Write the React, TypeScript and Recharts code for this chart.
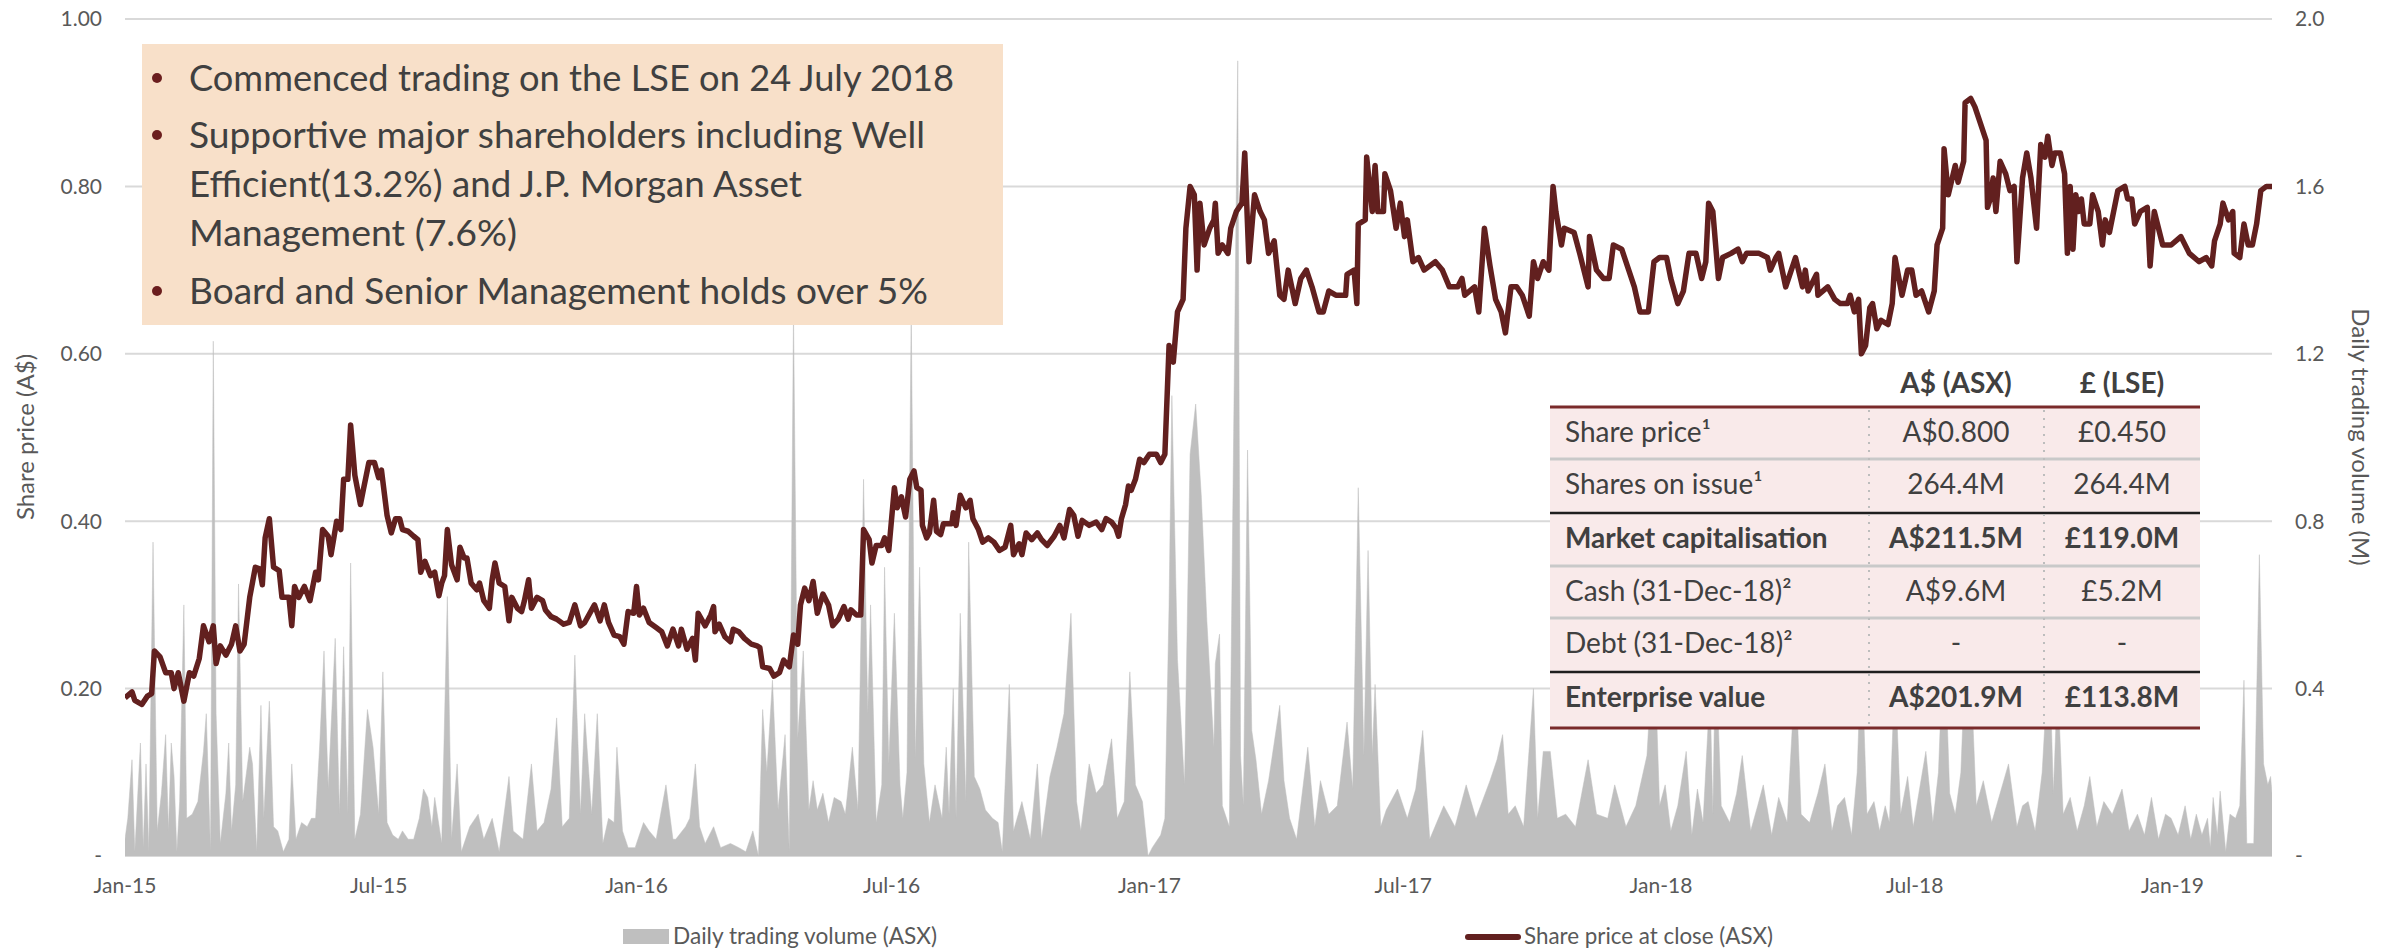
import { ComposedChart, Area, Line, XAxis, YAxis, CartesianGrid } from "recharts"

type Pt = [number, number]

// [days since 1 Jan 2015, share price A$]
const price2015: Pt[] = [
  [0, 0.189], [5, 0.196], [7, 0.186], [12, 0.181], [16, 0.191], [19, 0.194], [21, 0.245], [25, 0.238], [29, 0.219], [33, 0.219],
  [35, 0.2], [38, 0.219], [42, 0.185], [46, 0.219], [49, 0.215], [53, 0.236], [56, 0.275], [60, 0.256], [63, 0.275], [65, 0.23],
  [68, 0.251], [72, 0.24], [76, 0.253], [79, 0.275], [82, 0.245], [85, 0.253], [89, 0.309], [93, 0.345], [96, 0.343], [98, 0.324],
  [100, 0.38], [103, 0.403], [106, 0.345], [110, 0.341], [112, 0.309], [117, 0.309], [119, 0.275], [121, 0.322], [124, 0.309],
  [128, 0.322], [132, 0.305], [136, 0.339], [138, 0.33], [141, 0.39], [145, 0.382], [147, 0.36], [151, 0.4], [154, 0.39],
  [156, 0.45], [159, 0.45], [161, 0.515], [164, 0.455], [168, 0.42], [170, 0.437], [174, 0.47], [178, 0.47], [181, 0.452],
  [183, 0.461], [187, 0.407], [190, 0.386], [193, 0.403], [196, 0.403], [198, 0.39], [202, 0.388], [206, 0.382], [209, 0.378],
  [211, 0.339], [214, 0.352], [218, 0.335], [221, 0.339], [224, 0.311], [226, 0.326], [228, 0.335], [230, 0.39], [233, 0.348],
  [237, 0.33], [239, 0.369], [242, 0.356], [244, 0.356], [247, 0.326], [251, 0.318], [253, 0.326], [256, 0.305], [260, 0.296],
  [262, 0.33], [264, 0.35], [267, 0.326], [271, 0.322], [274, 0.281], [276, 0.309], [280, 0.296], [283, 0.292], [285, 0.305],
  [288, 0.33], [290, 0.296], [294, 0.309], [298, 0.305], [300, 0.294], [304, 0.286], [308, 0.283], [313, 0.277], [317, 0.279],
  [321, 0.3], [325, 0.275], [328, 0.279], [335, 0.3], [339, 0.281], [342, 0.3], [345, 0.279], [349, 0.264], [353, 0.262],
  [356, 0.253], [359, 0.292], [363, 0.29],
]
const price2016: Pt[] = [
  [365, 0.322], [367, 0.288], [370, 0.296], [374, 0.279], [379, 0.273], [383, 0.268], [387, 0.251], [391, 0.271], [395, 0.251],
  [397, 0.271], [401, 0.247], [405, 0.26], [407, 0.234], [409, 0.29], [414, 0.275], [418, 0.288], [420, 0.298], [421, 0.268],
  [424, 0.277], [428, 0.262], [432, 0.256], [434, 0.271], [438, 0.268], [442, 0.26], [447, 0.253], [451, 0.251], [453, 0.249],
  [455, 0.226], [460, 0.224], [463, 0.215], [467, 0.219], [470, 0.234], [474, 0.226], [477, 0.264], [480, 0.253], [482, 0.3],
  [485, 0.32], [488, 0.305], [491, 0.328], [494, 0.29], [498, 0.313], [502, 0.3], [505, 0.275], [509, 0.283], [513, 0.298],
  [516, 0.283], [518, 0.294], [522, 0.288], [525, 0.288], [527, 0.39], [531, 0.378], [533, 0.35], [536, 0.371], [540, 0.371],
  [542, 0.38], [545, 0.365], [549, 0.44], [551, 0.416], [554, 0.429], [557, 0.405], [560, 0.45], [563, 0.46], [565, 0.44],
  [568, 0.437], [569, 0.395], [572, 0.38], [574, 0.386], [577, 0.425], [579, 0.388], [582, 0.384], [584, 0.397], [590, 0.397],
  [591, 0.41], [593, 0.395], [596, 0.431], [600, 0.416], [603, 0.425], [605, 0.403], [609, 0.39], [612, 0.375], [616, 0.38],
  [620, 0.375], [624, 0.365], [628, 0.369], [632, 0.395], [634, 0.36], [638, 0.373], [640, 0.36], [643, 0.386], [647, 0.378],
  [651, 0.386], [654, 0.378], [658, 0.371], [663, 0.382], [667, 0.395], [670, 0.38], [674, 0.414], [677, 0.407], [680, 0.382],
  [683, 0.401], [688, 0.395], [693, 0.399], [697, 0.39], [700, 0.403], [704, 0.399], [707, 0.392], [709, 0.382], [711, 0.403],
  [714, 0.42], [716, 0.442], [718, 0.437], [721, 0.45], [724, 0.474], [727, 0.47],
]
const price2017: Pt[] = [
  [731, 0.48], [736, 0.48], [739, 0.47], [742, 0.48], [745, 0.61], [748, 0.59], [751, 0.65], [755, 0.665], [757, 0.75], [760, 0.8],
  [763, 0.79], [765, 0.7], [767, 0.78], [770, 0.73], [774, 0.75], [777, 0.76], [778, 0.78], [780, 0.72], [783, 0.73], [787, 0.72],
  [789, 0.75], [793, 0.77], [797, 0.78], [799, 0.84], [802, 0.71], [806, 0.79], [810, 0.77], [813, 0.76], [816, 0.72], [820, 0.735],
  [824, 0.67], [827, 0.665], [830, 0.7], [835, 0.66], [839, 0.69], [843, 0.7], [847, 0.68], [852, 0.65], [855, 0.65], [859, 0.675],
  [864, 0.67], [871, 0.67], [872, 0.695], [877, 0.7], [879, 0.66], [880, 0.755], [885, 0.76], [886, 0.835], [890, 0.77],
  [892, 0.825], [894, 0.77], [898, 0.77], [899, 0.815], [903, 0.795], [907, 0.75], [910, 0.78], [913, 0.74], [915, 0.76],
  [919, 0.71], [923, 0.715], [927, 0.7], [935, 0.71], [940, 0.7], [945, 0.68], [951, 0.68], [954, 0.69], [956, 0.67], [963, 0.68],
  [966, 0.65], [970, 0.75], [974, 0.705], [978, 0.665], [982, 0.65], [985, 0.625], [989, 0.68], [993, 0.68], [997, 0.67],
  [1002, 0.645], [1005, 0.71], [1008, 0.69], [1012, 0.71], [1016, 0.7], [1019, 0.8], [1021, 0.77], [1025, 0.73], [1027, 0.75],
  [1034, 0.745], [1038, 0.72], [1044, 0.68], [1045, 0.74], [1050, 0.7], [1055, 0.69], [1059, 0.69], [1062, 0.73], [1068, 0.725],
  [1073, 0.7], [1077, 0.68], [1081, 0.65], [1087, 0.65], [1091, 0.71], [1095, 0.715],
]
const price2018: Pt[] = [
  [1100, 0.715], [1103, 0.69], [1108, 0.66], [1112, 0.675], [1116, 0.72], [1121, 0.72], [1125, 0.69], [1128, 0.71], [1130, 0.78],
  [1133, 0.77], [1137, 0.69], [1140, 0.715], [1146, 0.72], [1151, 0.725], [1154, 0.71], [1157, 0.72], [1166, 0.72], [1172, 0.715],
  [1174, 0.7], [1178, 0.715], [1180, 0.72], [1185, 0.68], [1192, 0.715], [1197, 0.68], [1199, 0.7], [1201, 0.675], [1207, 0.695],
  [1208, 0.67], [1215, 0.68], [1220, 0.665], [1224, 0.66], [1229, 0.66], [1231, 0.67], [1234, 0.65], [1237, 0.665], [1239, 0.6],
  [1242, 0.61], [1245, 0.655], [1247, 0.66], [1250, 0.63], [1253, 0.64], [1258, 0.635], [1261, 0.66], [1263, 0.715], [1268, 0.67],
  [1272, 0.7], [1275, 0.7], [1278, 0.67], [1282, 0.675], [1287, 0.65], [1291, 0.675], [1293, 0.73], [1297, 0.75], [1298, 0.845],
  [1301, 0.79], [1306, 0.825], [1308, 0.805], [1312, 0.83], [1313, 0.9], [1317, 0.905], [1320, 0.895], [1323, 0.88], [1328, 0.855],
  [1329, 0.775], [1331, 0.785], [1333, 0.81], [1335, 0.77], [1338, 0.83], [1342, 0.815], [1345, 0.795], [1348, 0.8], [1350, 0.71],
  [1354, 0.81], [1357, 0.84], [1360, 0.81], [1364, 0.75], [1367, 0.85], [1370, 0.835], [1372, 0.86], [1375, 0.825], [1377, 0.84],
  [1381, 0.84], [1384, 0.815], [1386, 0.72], [1388, 0.8], [1390, 0.725], [1392, 0.79], [1394, 0.77], [1396, 0.785], [1398, 0.755],
  [1402, 0.755], [1404, 0.79], [1408, 0.77], [1411, 0.73], [1413, 0.76], [1416, 0.745], [1419, 0.77], [1422, 0.795], [1427, 0.8],
  [1429, 0.785], [1432, 0.785], [1434, 0.755], [1438, 0.77], [1443, 0.775], [1445, 0.705], [1448, 0.77], [1451, 0.75],
  [1454, 0.73], [1460, 0.73],
]
const price2019: Pt[] = [
  [1467, 0.74], [1473, 0.72], [1480, 0.71], [1485, 0.715], [1489, 0.705], [1491, 0.735], [1495, 0.755], [1497, 0.78], [1501, 0.76],
  [1504, 0.77], [1505, 0.72], [1509, 0.715], [1512, 0.755], [1515, 0.73], [1518, 0.73], [1521, 0.755], [1524, 0.795], [1528, 0.8],
  [1532, 0.8],
]

// [days since 1 Jan 2015, daily volume in millions]
const vol2015: Pt[] = [
  [0, 0.04], [2, 0.09], [5, 0.23], [7, 0.01], [11, 0.27], [13, 0.02], [15, 0.22], [17, 0.01], [20, 0.75], [23, 0.06], [26, 0.15],
  [29, 0.29], [31, 0.06], [33, 0.27], [35, 0.19], [37, 0.01], [39, 0.13], [42, 0.6], [44, 0.09], [48, 0.1], [52, 0.13], [56, 0.25],
  [58, 0.34], [61, 0.01], [63, 1.23], [65, 0.34], [68, 0.03], [72, 0.15], [74, 0.27], [76, 0.06], [79, 0.17], [81, 0.65], [84, 0.13],
  [89, 0.26], [91, 0.22], [94, 0.01], [97, 0.36], [99, 0.09], [103, 0.37], [106, 0.07], [109, 0.06], [113, 0.01], [117, 0.04],
  [119, 0.22], [122, 0.04], [126, 0.08], [130, 0.07], [133, 0.09], [136, 0.09], [139, 0.27], [142, 0.49], [145, 0.16], [150, 0.52],
  [153, 0.1], [156, 0.5], [159, 0.1], [161, 0.7], [164, 0.04], [168, 0.1], [173, 0.35], [177, 0.26], [181, 0.1], [184, 0.44],
  [187, 0.08], [191, 0.05], [195, 0.04], [198, 0.06], [202, 0.04], [206, 0.04], [210, 0.09], [213, 0.16], [216, 0.14], [219, 0.07],
  [221, 0.14], [226, 0.03], [230, 0.62], [233, 0.04], [237, 0.22], [240, 0.01], [246, 0.07], [252, 0.1], [256, 0.04], [262, 0.09],
  [267, 0.01], [274, 0.19], [277, 0.06], [284, 0.04], [290, 0.22], [294, 0.06], [299, 0.08], [304, 0.16], [308, 0.33], [312, 0.07],
  [317, 0.09], [321, 0.48], [325, 0.1], [328, 0.34], [333, 0.1], [337, 0.34], [341, 0.03], [345, 0.09], [349, 0.08], [351, 0.26],
  [355, 0.06], [359, 0.02], [364, 0.02],
]
const vol2016: Pt[] = [
  [370, 0.08], [374, 0.06], [379, 0.04], [386, 0.17], [391, 0.04], [393, 0.04], [400, 0.07], [403, 0.09], [407, 0.22], [410, 0.07],
  [414, 0.03], [420, 0.07], [425, 0.02], [432, 0.03], [438, 0.02], [443, 0.01], [448, 0.06], [452, 0.0], [455, 0.35], [458, 0.2],
  [462, 0.42], [466, 0.11], [471, 0.29], [474, 0.01], [477, 1.3], [480, 0.28], [484, 0.49], [488, 0.11], [491, 0.18], [494, 0.11],
  [498, 0.15], [502, 0.08], [506, 0.14], [511, 0.13], [514, 0.1], [519, 0.26], [523, 0.11], [527, 0.9], [530, 0.34], [532, 0.6],
  [536, 0.08], [540, 0.17], [542, 0.69], [545, 0.22], [549, 0.58], [553, 0.17], [555, 0.09], [558, 0.2], [561, 1.3], [564, 0.23],
  [567, 0.69], [570, 0.22], [574, 0.08], [578, 0.17], [583, 0.09], [586, 0.26], [588, 0.1], [591, 0.4], [593, 0.09], [596, 0.58],
  [600, 0.13], [602, 0.75], [606, 0.19], [610, 0.16], [614, 0.11], [619, 0.09], [623, 0.08], [626, 0.01], [631, 0.41], [634, 0.06],
  [640, 0.13], [646, 0.04], [651, 0.22], [654, 0.04], [660, 0.19], [665, 0.26], [670, 0.34], [675, 0.58], [679, 0.13], [682, 0.06],
  [688, 0.22], [693, 0.15], [698, 0.17], [704, 0.28], [708, 0.09], [713, 0.13], [717, 0.44], [721, 0.17], [726, 0.13], [730, 0.0],
]
const vol2017: Pt[] = [
  [733, 0.02], [739, 0.05], [742, 0.09], [745, 0.6], [747, 1.1], [751, 0.47], [756, 0.17], [760, 0.96], [764, 1.08], [768, 0.86],
  [772, 0.56], [777, 0.26], [778, 0.46], [781, 0.53], [783, 0.12], [788, 0.07], [794, 1.9], [796, 0.24], [798, 0.12], [801, 0.97],
  [804, 0.3], [807, 0.23], [811, 0.1], [816, 0.18], [824, 0.36], [827, 0.18], [831, 0.09], [836, 0.04], [844, 0.26], [849, 0.07],
  [853, 0.18], [859, 0.1], [865, 0.12], [872, 0.32], [876, 0.16], [880, 0.88], [884, 0.24], [887, 0.73], [890, 0.24], [892, 0.41],
  [896, 0.07], [900, 0.11], [908, 0.16], [915, 0.09], [921, 0.16], [926, 0.3], [931, 0.04], [941, 0.12], [949, 0.07], [957, 0.17],
  [964, 0.09], [974, 0.18], [979, 0.23], [983, 0.29], [987, 0.1], [992, 0.12], [998, 0.07], [1005, 0.4], [1008, 0.09], [1012, 0.25],
  [1017, 0.25], [1022, 0.09], [1028, 0.1], [1035, 0.07], [1044, 0.23], [1050, 0.1], [1058, 0.09], [1063, 0.17], [1071, 0.07],
  [1078, 0.12], [1086, 0.24], [1091, 0.53], [1095, 0.12],
]
const vol2018: Pt[] = [
  [1099, 0.17], [1103, 0.06], [1108, 0.12], [1114, 0.25], [1118, 0.05], [1122, 0.16], [1126, 0.08], [1131, 0.4], [1133, 0.1],
  [1135, 0.5], [1139, 0.12], [1145, 0.08], [1150, 0.15], [1154, 0.24], [1160, 0.06], [1165, 0.12], [1169, 0.17], [1175, 0.05],
  [1180, 0.14], [1186, 0.08], [1192, 0.45], [1196, 0.1], [1202, 0.08], [1208, 0.15], [1213, 0.22], [1218, 0.06], [1222, 0.12],
  [1227, 0.14], [1232, 0.05], [1236, 0.2], [1239, 0.5], [1243, 0.1], [1248, 0.13], [1252, 0.06], [1256, 0.12], [1259, 0.08],
  [1263, 0.45], [1267, 0.1], [1272, 0.19], [1276, 0.07], [1280, 0.15], [1285, 0.25], [1290, 0.08], [1294, 0.2], [1298, 0.55],
  [1302, 0.15], [1306, 0.1], [1310, 0.2], [1314, 0.55], [1317, 0.45], [1321, 0.12], [1326, 0.18], [1332, 0.08], [1338, 0.15],
  [1344, 0.22], [1350, 0.07], [1354, 0.12], [1358, 0.13], [1363, 0.06], [1368, 0.2], [1373, 0.5], [1376, 0.15], [1379, 0.42],
  [1383, 0.1], [1388, 0.14], [1393, 0.06], [1398, 0.12], [1402, 0.19], [1407, 0.07], [1412, 0.13], [1418, 0.1], [1425, 0.16],
  [1430, 0.06], [1436, 0.1], [1441, 0.05], [1446, 0.14], [1451, 0.04], [1456, 0.1], [1460, 0.09],
]
const vol2019: Pt[] = [
  [1465, 0.05], [1470, 0.12], [1474, 0.04], [1478, 0.1], [1482, 0.05], [1486, 0.09], [1488, 0.02], [1490, 0.14], [1493, 0.05],
  [1495, 0.155], [1499, 0.01], [1502, 0.1], [1506, 0.09], [1509, 0.12], [1512, 0.42], [1514, 0.03], [1517, 0.03], [1519, 0.03],
  [1523, 0.72], [1526, 0.22], [1529, 0.17], [1531, 0.19], [1532, 0.15],
]

const xTickDays = [0, 181, 365, 547, 731, 912, 1096, 1277, 1461]
const xTickLabels = ["Jan-15", "Jul-15", "Jan-16", "Jul-16", "Jan-17", "Jul-17", "Jan-18", "Jul-18", "Jan-19"]
const priceTicks = [0, 0.2, 0.4, 0.6, 0.8, 1.0]
const volumeTicks = [0, 0.4, 0.8, 1.2, 1.6, 2.0]

const bulletLines = [
  { text: "Commenced trading on the LSE on 24 July 2018", bullet: true, width: 765 },
  { text: "Supportive major shareholders including Well", bullet: true, width: 736 },
  { text: "Efficient(13.2%) and J.P. Morgan Asset", bullet: false, width: 613 },
  { text: "Management (7.6%)", bullet: false, width: 328 },
  { text: "Board and Senior Management holds over 5%", bullet: true, width: 739 },
]
const bulletBaselines = [91, 148, 197, 246, 304]

const tableHeader = ["A$ (ASX)", "£ (LSE)"]
const tableRows = [
  { label: "Share price¹", asx: "A$0.800", lse: "£0.450", bold: false },
  { label: "Shares on issue¹", asx: "264.4M", lse: "264.4M", bold: false },
  { label: "Market capitalisation", asx: "A$211.5M", lse: "£119.0M", bold: true },
  { label: "Cash (31-Dec-18)²", asx: "A$9.6M", lse: "£5.2M", bold: false },
  { label: "Debt (31-Dec-18)²", asx: "-", lse: "-", bold: false },
  { label: "Enterprise value", asx: "A$201.9M", lse: "£113.8M", bold: true },
]

const MAROON = "#62201f"
const TEXT = "#404040"
const AXIS_TEXT = "#595959"
const FONT = "Lato, 'Open Sans', sans-serif"

const priceData = [...price2015, ...price2016, ...price2017, ...price2018, ...price2019].map(([day, v]) => ({ day, price: v }))
const volumeData = [...vol2015, ...vol2016, ...vol2017, ...vol2018, ...vol2019].map(([day, v]) => ({ day, volume: v }))

function Annotations() {
  const rowTops = [407, 459, 513, 566, 618, 672, 728]
  const sepColors = ["#c9c9c9", "#1f1f1f", "#c9c9c9", "#c9c9c9", "#1f1f1f"]
  return (
    <svg width={2394} height={948} style={{ position: "absolute", left: 0, top: 0, pointerEvents: "none" }}>
      {/* key points box */}
      <rect x={142} y={44} width={861} height={281} fill="#f8e0c9" />
      {bulletLines.map((l, i) => (
        <g key={i}>
          {l.bullet && <circle cx={157} cy={bulletBaselines[i] - 13} r={5} fill="#6b1e1e" />}
          <text x={189} y={bulletBaselines[i]} fontSize={37} fill={TEXT} fontFamily={FONT} textLength={l.width} lengthAdjust="spacingAndGlyphs">
            {l.text}
          </text>
        </g>
      ))}

      {/* capital structure table */}
      <text x={1956} y={393} fontSize={28} fontWeight={700} fill={TEXT} fontFamily={FONT} textAnchor="middle">{tableHeader[0]}</text>
      <text x={2122} y={393} fontSize={28} fontWeight={700} fill={TEXT} fontFamily={FONT} textAnchor="middle">{tableHeader[1]}</text>
      <rect x={1550} y={407} width={650} height={321} fill="#f9eaea" />
      {sepColors.map((c, i) => (
        <line key={i} x1={1550} x2={2200} y1={rowTops[i + 1]} y2={rowTops[i + 1]} stroke={c} strokeWidth={c === "#1f1f1f" ? 2.5 : 3} />
      ))}
      <line x1={1550} x2={2200} y1={407} y2={407} stroke="#7a2a2a" strokeWidth={3} />
      <line x1={1550} x2={2200} y1={728} y2={728} stroke="#7a2a2a" strokeWidth={3} />
      {[1869, 2044].map((x) => (
        <line key={x} x1={x} x2={x} y1={410} y2={726} stroke="#bdbdbd" strokeWidth={2} strokeDasharray="2 6" />
      ))}
      {tableRows.map((r, i) => {
        const y = rowTops[i] + 35
        const w = r.bold ? 700 : 400
        return (
          <g key={i}>
            <text x={1565} y={y} fontSize={28} fontWeight={w} fill={TEXT} fontFamily={FONT}>{r.label}</text>
            <text x={1956} y={y} fontSize={28} fontWeight={w} fill={TEXT} fontFamily={FONT} textAnchor="middle">{r.asx}</text>
            <text x={2122} y={y} fontSize={28} fontWeight={w} fill={TEXT} fontFamily={FONT} textAnchor="middle">{r.lse}</text>
          </g>
        )
      })}

      {/* axis titles */}
      <text transform="translate(34,437) rotate(-90)" textAnchor="middle" fontSize={24} fill={AXIS_TEXT} fontFamily={FONT}>Share price (A$)</text>
      <text transform="translate(2352,437) rotate(90)" textAnchor="middle" fontSize={24} fill={AXIS_TEXT} fontFamily={FONT}>Daily trading volume (M)</text>

      {/* legend */}
      <rect x={623} y={929} width={46} height={15} fill="#bfbfbf" />
      <text x={673} y={944} fontSize={23} fill={AXIS_TEXT} fontFamily={FONT} textLength={264} lengthAdjust="spacingAndGlyphs">Daily trading volume (ASX)</text>
      <line x1={1468} x2={1518} y1={937} y2={937} stroke={MAROON} strokeWidth={6} strokeLinecap="round" />
      <text x={1524} y={944} fontSize={23} fill={AXIS_TEXT} fontFamily={FONT} textLength={249} lengthAdjust="spacingAndGlyphs">Share price at close (ASX)</text>
    </svg>
  )
}

export default function App() {
  const tickStyle = { fill: AXIS_TEXT, fontSize: 21, fontFamily: FONT }
  return (
    <div style={{ position: "absolute", left: 0, top: 0, width: 2394, height: 948, background: "#fff", fontFamily: FONT }}>
      <ComposedChart width={2394} height={948} margin={{ top: 19, right: 50, bottom: 52, left: 40 }}>
        <CartesianGrid yAxisId="price" vertical={false} stroke="#d9d9d9" strokeWidth={2} />
        <XAxis
          type="number"
          dataKey="day"
          domain={[0, 1532]}
          ticks={xTickDays}
          interval={0}
          tickFormatter={(d) => xTickLabels[xTickDays.indexOf(d)] ?? ""}
          axisLine={false}
          tickLine={false}
          tickSize={0}
          tickMargin={22}
          height={40}
          tick={tickStyle}
          allowDataOverflow
        />
        <YAxis
          yAxisId="price"
          domain={[0, 1]}
          ticks={priceTicks}
          interval={0}
          tickFormatter={(v) => (v === 0 ? "-" : v.toFixed(2))}
          axisLine={false}
          tickLine={false}
          tickSize={0}
          tickMargin={23}
          width={85}
          tick={tickStyle}
        />
        <YAxis
          yAxisId="vol"
          orientation="right"
          domain={[0, 2]}
          ticks={volumeTicks}
          interval={0}
          tickFormatter={(v) => (v === 0 ? "-" : v.toFixed(1))}
          axisLine={false}
          tickLine={false}
          tickSize={0}
          tickMargin={23}
          width={72}
          tick={tickStyle}
        />
        <Area
          yAxisId="vol"
          data={volumeData}
          dataKey="volume"
          type="linear"
          fill="#bfbfbf"
          fillOpacity={1}
          stroke="#bfbfbf"
          strokeWidth={0.5}
          dot={false}
          activeDot={false}
          isAnimationActive={false}
        />
        <Line
          yAxisId="price"
          data={priceData}
          dataKey="price"
          type="linear"
          stroke={MAROON}
          strokeWidth={5.5}
          strokeLinejoin="round"
          dot={false}
          activeDot={false}
          isAnimationActive={false}
        />
      </ComposedChart>
      <Annotations />
    </div>
  )
}
